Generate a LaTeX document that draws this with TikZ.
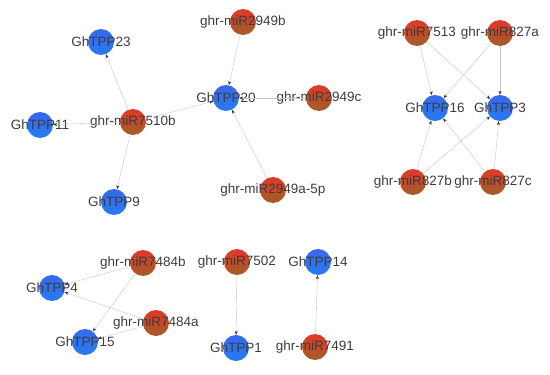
\documentclass[tikz,border=0pt]{standalone}
\usepackage{fontspec}
\setmainfont{Liberation Sans}
\usepackage{xcolor}
\usetikzlibrary{arrows.meta}

\definecolor{tppblue}{RGB}{40,122,242}
\definecolor{tppblueTop}{RGB}{55,105,238}
\definecolor{mirred}{RGB}{228,55,40}
\definecolor{mirbrown}{RGB}{160,95,40}
\definecolor{labelgray}{RGB}{60,60,60}

\begin{document}
\begin{tikzpicture}[x=1pt, y=-1pt,
    gene/.style={circle, draw=none, minimum size=26pt, inner sep=0pt,
        top color=tppblueTop, bottom color=tppblue},
    mir/.style={circle, draw=none, minimum size=26pt, inner sep=0pt,
        top color=mirred, bottom color=mirbrown},
    every label/.style={text=labelgray, font=\fontsize{13.5}{15}\selectfont, inner sep=0pt},
    target/.style={gray!45, line width=0.4pt, -{Stealth[length=4pt, width=3pt, black!80]}}]

    % Canvas
    \useasboundingbox (0, 0) rectangle (550, 375);

    % Cluster around GhTPP20
    \node[gene, label=center:GhTPP23] (tpp23) at (101, 42) {};
    \node[gene, label=center:GhTPP20] (tpp20) at (226, 98) {};
    \node[gene, label=center:GhTPP11] (tpp11) at (40, 125) {};
    \node[gene, label=center:GhTPP9] (tpp9) at (114, 202) {};
    \node[mir, label=center:ghr-miR2949b] (m2949b) at (243, 22) {};
    \node[mir, label=center:ghr-miR2949c] (m2949c) at (319, 98) {};
    \node[mir, label=center:ghr-miR7510b] (m7510b) at (133, 122) {};
    \node[mir, label=center:ghr-miR2949a-5p] (m2949a) at (273, 190) {};

    % Cluster around GhTPP16 and GhTPP3
    \node[mir, label=center:ghr-miR7513] (m7513) at (417, 33) {};
    \node[mir, label=center:ghr-miR827a] (m827a) at (500, 33) {};
    \node[gene, label=center:GhTPP16] (tpp16) at (435, 108) {};
    \node[gene, label=center:GhTPP3] (tpp3) at (500, 108) {};
    \node[mir, label=center:ghr-miR827b] (m827b) at (413, 182) {};
    \node[mir, label=center:ghr-miR827c] (m827c) at (493, 182) {};

    % Bottom clusters
    \node[mir, label=center:ghr-miR7484b] (m7484b) at (143, 263) {};
    \node[gene, label=center:GhTPP4] (tpp4) at (52, 288) {};
    \node[mir, label=center:ghr-miR7484a] (m7484a) at (156, 323) {};
    \node[gene, label=center:GhTPP15] (tpp15) at (85, 342) {};
    \node[mir, label=center:ghr-miR7502] (m7502) at (237, 262) {};
    \node[gene, label=center:GhTPP1] (tpp1) at (236, 348) {};
    \node[gene, label=center:GhTPP14] (tpp14) at (318, 262) {};
    \node[mir, label=center:ghr-miR7491] (m7491) at (315, 347) {};

    % miRNA -> target edges
    \foreach \a/\b in {m7510b/tpp23, m7510b/tpp11, m7510b/tpp20, m7510b/tpp9,
                       m2949b/tpp20, m2949c/tpp20, m2949a/tpp20,
                       m7513/tpp16, m7513/tpp3, m827a/tpp16, m827a/tpp3,
                       m827b/tpp16, m827b/tpp3, m827c/tpp16, m827c/tpp3,
                       m7484b/tpp4, m7484b/tpp15, m7484a/tpp4, m7484a/tpp15,
                       m7502/tpp1, m7491/tpp14} {
        \draw[target] (\a) -- (\b);
    }

\end{tikzpicture}
\end{document}
